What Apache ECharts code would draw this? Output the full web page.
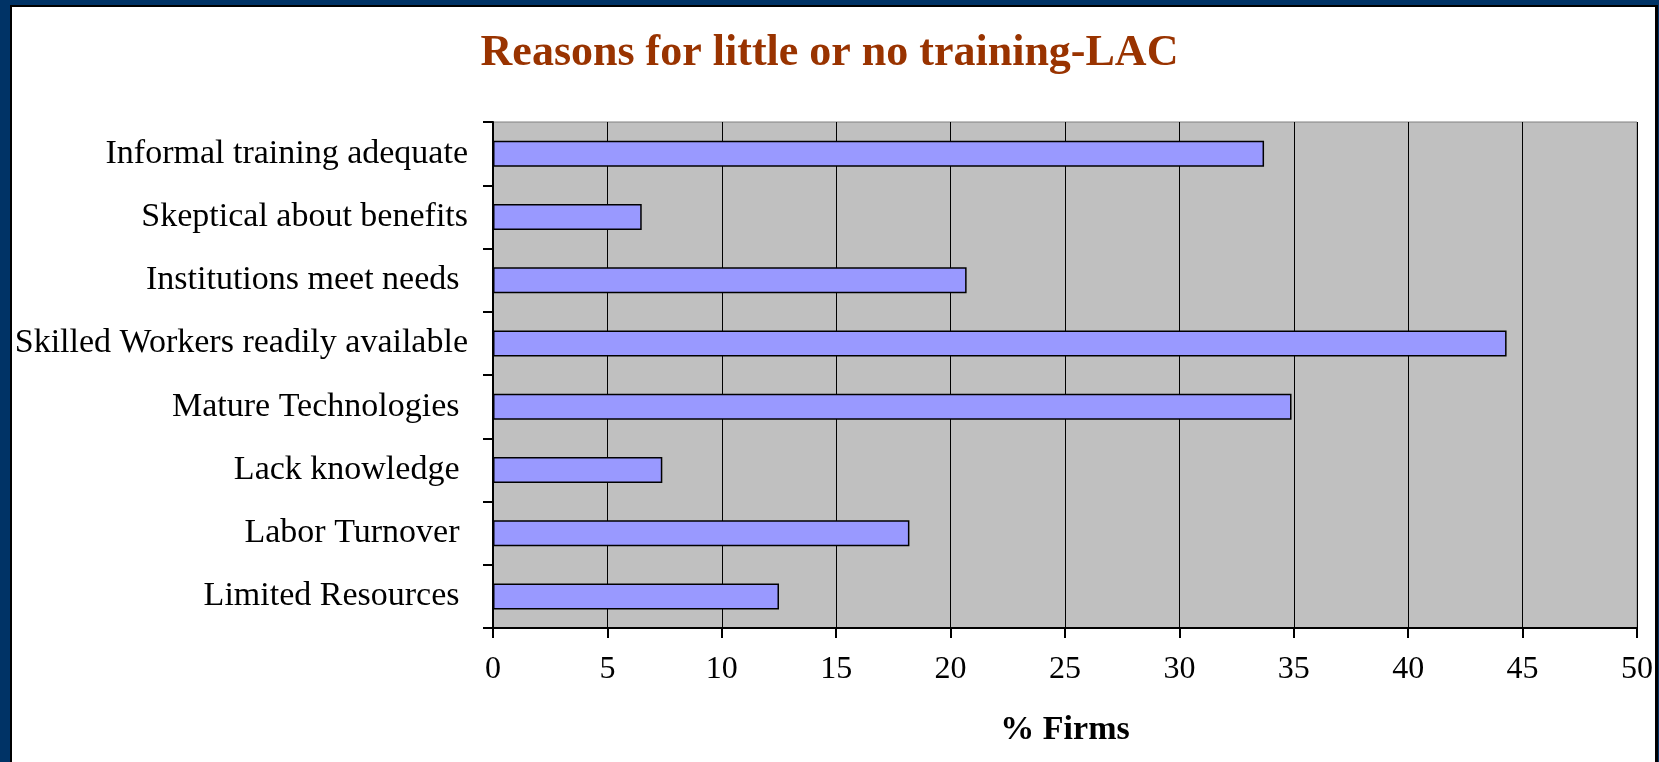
<!DOCTYPE html>
<html>
<head>
<meta charset="utf-8">
<title>Reasons for little or no training-LAC</title>
<script src="https://cdn.jsdelivr.net/npm/echarts@6/dist/echarts.min.js"></script>
<style>
  html, body { margin: 0; padding: 0; background: #ffffff; }
  #chart { width: 1659px; height: 762px; }
</style>
</head>
<body>
<div id="chart"></div>
<script>
// Reasons given by firms (top to bottom as listed)
const categories = [
  'Informal training adequate',
  'Skeptical about benefits',
  'Institutions meet needs ',
  'Skilled Workers readily available',
  'Mature Technologies ',
  'Lack knowledge ',
  'Labor Turnover ',
  'Limited Resources '
];
// Share of firms citing each reason (%)
const firmsPct = [33.7, 6.5, 20.7, 44.3, 34.9, 7.4, 18.2, 12.5];
// Value axis range and step
const xMin = 0;
const xMax = 50;
const xStep = 5;

const serif = '"Liberation Serif", "Times New Roman", serif';

const chart = echarts.init(document.getElementById('chart'), null, { renderer: 'canvas' });

chart.setOption({
  backgroundColor: '#ffffff',
  animation: false,
  title: {
    text: 'Reasons for little or no training-LAC',
    left: 'center',
    top: 27,
    textStyle: {
      fontFamily: serif,
      fontWeight: 'bold',
      fontSize: 44,
      color: '#993300'
    }
  },
  graphic: [
    // frame: navy band with black inner edge along top and left, thin black line at right
    { type: 'rect', z: 100, shape: { x: 0, y: 0, width: 1659, height: 5 }, style: { fill: '#003366' } },
    { type: 'rect', z: 100, shape: { x: 10, y: 5, width: 1649, height: 2 }, style: { fill: '#000000' } },
    { type: 'rect', z: 100, shape: { x: 0, y: 0, width: 10, height: 762 }, style: { fill: '#003366' } },
    { type: 'rect', z: 100, shape: { x: 10, y: 5, width: 2, height: 757 }, style: { fill: '#000000' } },
    { type: 'rect', z: 100, shape: { x: 1655, y: 5, width: 4, height: 757 }, style: { fill: '#000000' } },
    { type: 'rect', z: 100, shape: { x: 1658, y: 0, width: 1, height: 762 }, style: { fill: '#003366' } }
  ],
  grid: {
    left: 493,
    top: 122,
    width: 1144,
    height: 506,
    show: true,
    backgroundColor: '#C0C0C0',
    borderColor: '#808080',
    borderWidth: 1
  },
  xAxis: {
    type: 'value',
    min: xMin,
    max: xMax,
    interval: xStep,
    name: '% Firms',
    nameLocation: 'middle',
    nameGap: 85,
    nameTextStyle: {
      fontFamily: serif,
      fontWeight: 'bold',
      fontSize: 34,
      color: '#000000'
    },
    axisLine: { show: true, onZero: false, lineStyle: { color: '#000000', width: 2 } },
    axisTick: { show: true, length: 10, lineStyle: { color: '#000000', width: 2 } },
    axisLabel: {
      margin: 26,
      fontFamily: serif,
      fontSize: 32,
      color: '#000000'
    },
    splitLine: { show: true, lineStyle: { color: '#000000', width: 1 } }
  },
  yAxis: {
    type: 'category',
    data: categories,
    inverse: true,
    axisLine: { show: true, lineStyle: { color: '#000000', width: 2 } },
    axisTick: { show: true, length: 10, lineStyle: { color: '#000000', width: 2 } },
    axisLabel: {
      margin: 25,
      fontFamily: serif,
      fontSize: 34,
      color: '#000000'
    },
    splitLine: { show: false }
  },
  series: [{
    type: 'bar',
    data: firmsPct,
    barWidth: 26,
    itemStyle: {
      color: '#9999FF',
      borderColor: '#000000',
      borderWidth: 1.5
    }
  }]
});
</script>
</body>
</html>
